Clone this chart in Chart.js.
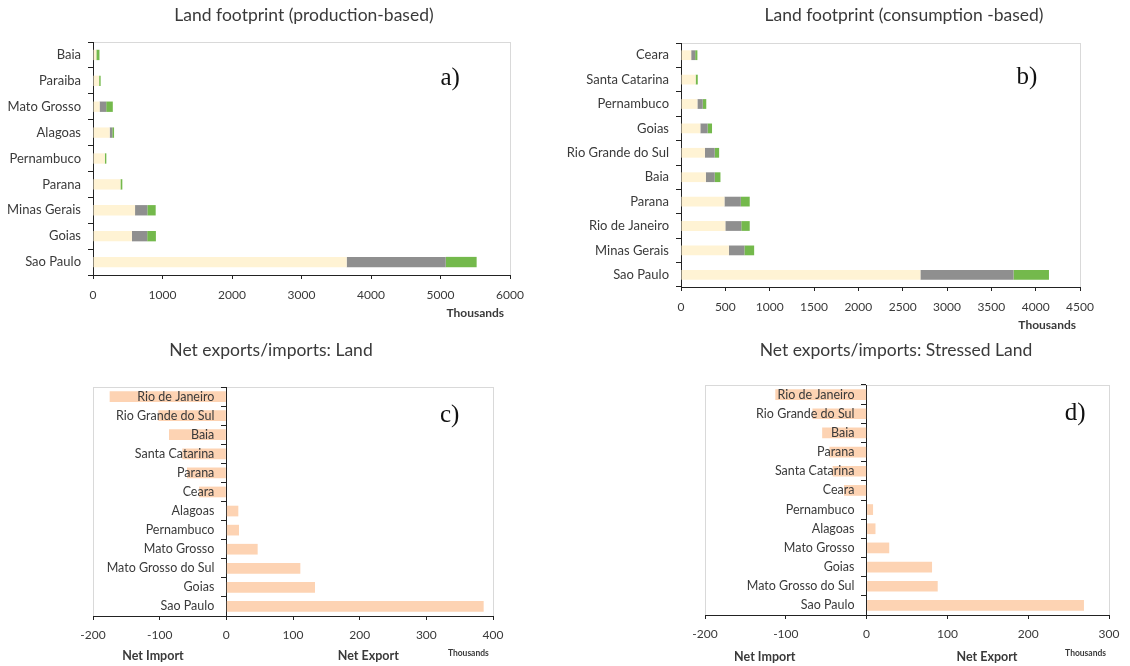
<!DOCTYPE html>
<html>
<head>
<meta charset="utf-8">
<script src="https://cdn.jsdelivr.net/npm/chart.js@4.4.1/dist/chart.umd.min.js"></script>
<style>
  body { margin: 0; background: #fff; }
  #wrap { position: relative; width: 1130px; height: 666px; overflow: hidden; }
  #wrap canvas { position: absolute; }
</style>
</head>
<body>
<div id="wrap">
  <canvas id="prodChart" width="565" height="333" style="left:0;top:0"></canvas>
  <canvas id="consChart" width="565" height="333" style="left:565px;top:0"></canvas>
  <canvas id="netLandChart" width="565" height="333" style="left:0;top:333px"></canvas>
  <canvas id="netStressChart" width="565" height="333" style="left:565px;top:333px"></canvas>
</div>
<script>
// land footprint, production-based (thousands) - first entry drawn at the top
const prodStates = ['Baia', 'Paraiba', 'Mato Grosso', 'Alagoas', 'Pernambuco', 'Parana', 'Minas Gerais', 'Goias', 'Sao Paulo'];
const prodLand = [48, 88, 95, 240, 170, 395, 605, 560, 3650];
const prodStressed = [0, 0, 95, 38, 0, 0, 177, 220, 1425];
const prodOther = [45, 22, 95, 25, 22, 27, 120, 125, 445];

// land footprint, consumption-based (thousands)
const consStates = ['Ceara', 'Santa Catarina', 'Pernambuco', 'Goias', 'Rio Grande do Sul', 'Baia', 'Parana', 'Rio de Janeiro', 'Minas Gerais', 'Sao Paulo'];
const consLand = [115, 165, 185, 218, 270, 280, 490, 500, 540, 2700];
const consStressed = [45, 0, 60, 82, 110, 100, 185, 180, 175, 1050];
const consOther = [25, 24, 40, 50, 50, 65, 100, 95, 110, 400];

// net exports / imports of land (thousands)
const netLandStates = ['Rio de Janeiro', 'Rio Grande do Sul', 'Baia', 'Santa Catarina', 'Parana', 'Ceara', 'Alagoas', 'Pernambuco', 'Mato Grosso', 'Mato Grosso do Sul', 'Goias', 'Sao Paulo'];
const netLand = [-175, -102, -86, -66, -59, -41, 18, 19, 47, 111, 133, 386];

// net exports / imports of stressed land (thousands)
const netStressStates = ['Rio de Janeiro', 'Rio Grande do Sul', 'Baia', 'Parana', 'Santa Catarina', 'Ceara', 'Pernambuco', 'Alagoas', 'Mato Grosso', 'Goias', 'Mato Grosso do Sul', 'Sao Paulo'];
const netStress = [-113, -67, -55, -46, -42, -28, 8, 11, 28, 81, 88, 269];

const CREAM = '#fff3d4';
const GREY = '#8f8f8f';
const GREEN = '#74b94c';
const PEACH = '#fdd3b3';
const INK = '#3a3a3a';

Chart.defaults.font.family = 'Lato, "Open Sans", sans-serif';
Chart.defaults.color = INK;

// light box around the plotting area
const plotFrame = {
  id: 'plotFrame',
  beforeDraw(chart) {
    const { left, top, right, bottom } = chart.chartArea;
    const ctx = chart.ctx;
    ctx.save();
    ctx.strokeStyle = '#d9d9d9';
    ctx.lineWidth = 1;
    ctx.strokeRect(Math.round(left) + 0.5, Math.round(top) + 0.5, Math.round(right - left), Math.round(bottom - top));
    ctx.restore();
  }
};

// free text: titles, panel letters and axis notes
const panelText = {
  id: 'panelText',
  afterDraw(chart, args, opts) {
    const ctx = chart.ctx;
    const xs = chart.scales.x;
    for (const t of opts.items || []) {
      ctx.save();
      ctx.font = t.font;
      ctx.fillStyle = t.color || INK;
      ctx.textAlign = 'center';
      ctx.textBaseline = 'middle';
      const x = t.value !== undefined ? xs.getPixelForValue(t.value) : t.x;
      ctx.fillText(t.text, x, t.y);
      ctx.restore();
    }
  }
};

const TITLE_FONT = '17.5px Lato';
const LETTER_FONT = '25px "Liberation Serif"';
const NOTE_FONT = 'bold 12px Lato';

function footprintChart(id, labels, land, stressed, other, xMax, step, pad, yWidth, texts) {
  return new Chart(document.getElementById(id), {
    type: 'bar',
    data: {
      labels: labels,
      datasets: [
        { data: land, backgroundColor: CREAM },
        { data: stressed, backgroundColor: GREY },
        { data: other, backgroundColor: GREEN }
      ]
    },
    options: {
      indexAxis: 'y',
      responsive: false,
      animation: false,
      devicePixelRatio: 1,
      categoryPercentage: 1,
      barPercentage: 0.4,
      layout: { padding: pad },
      plugins: { legend: { display: false }, tooltip: { enabled: false }, panelText: { items: texts } },
      scales: {
        x: {
          stacked: true, min: 0, max: xMax,
          afterFit(s) { s.height = 40; },
          ticks: { stepSize: step, font: { size: 12 }, padding: 9, callback: v => String(v), color: INK },
          grid: { drawOnChartArea: false, tickLength: 4, color: '#222' },
          border: { color: '#222' }
        },
        y: {
          stacked: true,
          afterFit(s) { s.width = yWidth; },
          ticks: { font: { size: 13 }, padding: 7, color: INK },
          grid: { drawOnChartArea: false, tickLength: 5, color: '#222' },
          border: { color: '#222' }
        }
      }
    },
    plugins: [plotFrame, panelText]
  });
}

// labelAt: x value where the state names end, a little left of the zero line
function netChart(id, labels, values, xMin, xMax, labelAt, pad, texts) {
  return new Chart(document.getElementById(id), {
    type: 'bar',
    data: {
      labels: labels,
      datasets: [{ data: values, backgroundColor: PEACH }]
    },
    options: {
      indexAxis: 'y',
      responsive: false,
      animation: false,
      devicePixelRatio: 1,
      categoryPercentage: 1,
      barPercentage: 0.56,
      layout: { padding: pad },
      plugins: { legend: { display: false }, tooltip: { enabled: false }, panelText: { items: texts } },
      scales: {
        x: {
          min: xMin, max: xMax,
          afterFit(s) { s.height = 30; },
          ticks: { stepSize: 100, font: { size: 12 }, padding: 8, callback: v => String(v), color: INK },
          grid: { drawOnChartArea: false, tickLength: 4, color: '#222' },
          border: { color: '#222' }
        },
        // axis line with ticks, sitting on zero
        y: {
          position: { x: 0 },
          offset: true,
          ticks: { display: false },
          grid: { drawOnChartArea: false, offset: true, tickLength: 5, color: '#222' },
          border: { color: '#222' }
        },
        // state names, drawn over the bars
        names: {
          type: 'category',
          axis: 'y',
          position: { x: labelAt },
          offset: true,
          grid: { display: false },
          border: { display: false },
          ticks: { z: 1, font: { size: 12.5 }, padding: 0, color: INK }
        }
      }
    },
    plugins: [plotFrame, panelText]
  });
}

footprintChart('prodChart', prodStates, prodLand, prodStressed, prodOther, 6000, 1000,
  { left: 0, top: 42, right: 55, bottom: 18 }, 93, [
    { text: 'Land footprint (production-based)', x: 304, y: 15, font: TITLE_FONT },
    { text: 'a)', value: 5140, y: 78, font: LETTER_FONT, color: '#111' },
    { text: 'Thousands', value: 5500, y: 313, font: NOTE_FONT }
  ]);

footprintChart('consChart', consStates, consLand, consStressed, consOther, 4500, 500,
  { left: 0, top: 43, right: 50, bottom: 6 }, 116, [
    { text: 'Land footprint (consumption -based)', x: 339, y: 15, font: TITLE_FONT },
    { text: 'b)', value: 3900, y: 77, font: LETTER_FONT, color: '#111' },
    { text: 'Thousands', value: 4130, y: 325, font: NOTE_FONT }
  ]);

netChart('netLandChart', netLandStates, netLand, -200, 400, -18,
  { left: 93, top: 54, right: 72, bottom: 20 }, [
    { text: 'Net exports/imports: Land', x: 271, y: 17, font: TITLE_FONT },
    { text: 'c)', value: 335, y: 82, font: LETTER_FONT, color: '#111' },
    { text: 'Net Import', value: -110, y: 323, font: 'bold 12.5px Lato' },
    { text: 'Net Export', value: 213, y: 323, font: 'bold 12.5px Lato' },
    { text: 'Thousands', value: 363, y: 320, font: 'bold 8.5px Lato' }
  ]);

netChart('netStressChart', netStressStates, netStress, -200, 300, -15,
  { left: 140, top: 52, right: 21, bottom: 21 }, [
    { text: 'Net exports/imports: Stressed Land', x: 331, y: 17, font: TITLE_FONT },
    { text: 'd)', value: 258, y: 80, font: LETTER_FONT, color: '#111' },
    { text: 'Net Import', value: -126, y: 324, font: 'bold 12.5px Lato' },
    { text: 'Net Export', value: 149, y: 324, font: 'bold 12.5px Lato' },
    { text: 'Thousands', value: 271, y: 320, font: 'bold 8.5px Lato' }
  ]);
</script>
</body>
</html>
